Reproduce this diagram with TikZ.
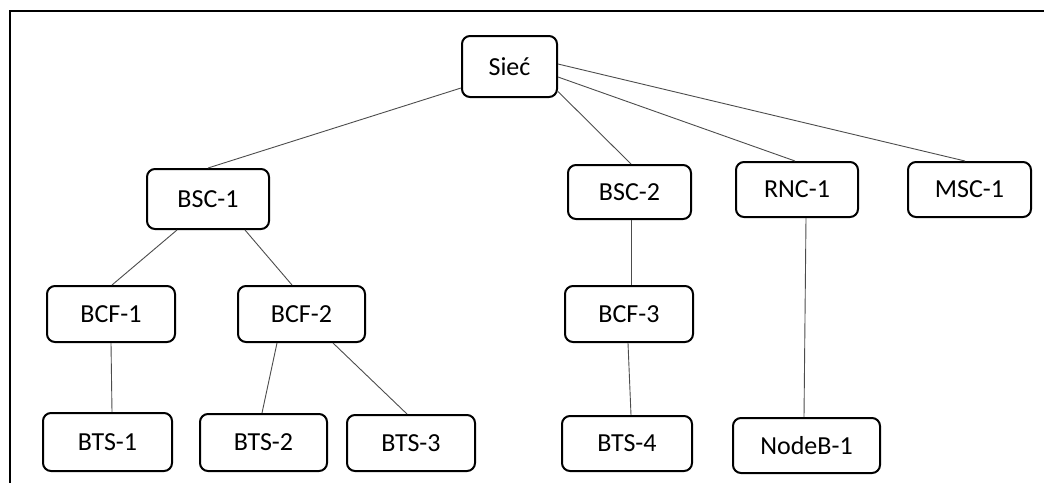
\documentclass[tikz,border=0pt]{standalone}
\usepackage{fontspec}
\setmainfont{Carlito}
\begin{document}
\begin{tikzpicture}[x=1pt,y=-1pt,
  box/.style={draw=black, line width=2pt, rounded corners=8pt, fill=white,
    inner sep=0pt, font=\fontsize{26}{30}\selectfont, text=black},
  link/.style={draw=black!70, line width=0.9pt}]
  \useasboundingbox (0,0) rectangle (1044,483);
  % open frame: top and left edges
  \draw[line width=2pt] (1044,11) -- (10,11) -- (10,483);

  % tree nodes
  \node[box, minimum width=95pt,  minimum height=61pt] (siec)  at (509.5,66.5) {Sieć};
  \node[box, minimum width=122pt, minimum height=60pt] (bsc1)  at (208,199)    {BSC-1};
  \node[box, minimum width=123pt, minimum height=54pt] (bsc2)  at (629.5,192)  {BSC-2};
  \node[box, minimum width=122pt, minimum height=55pt] (rnc1)  at (797,189.5)  {RNC-1};
  \node[box, minimum width=123pt, minimum height=55pt] (msc1)  at (969.5,189.5){MSC-1};
  \node[box, minimum width=128pt, minimum height=56pt] (bcf1)  at (111,314)    {BCF-1};
  \node[box, minimum width=127pt, minimum height=56pt] (bcf2)  at (301.5,314)  {BCF-2};
  \node[box, minimum width=128pt, minimum height=56pt] (bcf3)  at (629,314)    {BCF-3};
  \node[box, minimum width=129pt, minimum height=58pt] (bts1)  at (107.5,442)  {BTS-1};
  \node[box, minimum width=127pt, minimum height=57pt] (bts2)  at (263.5,442.5){BTS-2};
  \node[box, minimum width=128pt, minimum height=56pt] (bts3)  at (411,443)    {BTS-3};
  \node[box, minimum width=130pt, minimum height=55pt] (bts4)  at (627,443.5)  {BTS-4};
  \node[box, minimum width=147pt, minimum height=55pt] (nodeb) at (806.5,445.5){NodeB-1};

  % connections
  \draw[link] ([yshift=-21.5pt]siec.west) -- (bsc1.north);
  \draw[link] ([yshift=-25pt]siec.east) -- ([xshift=1.5pt]bsc2.north);
  \draw[link] ([yshift=-10.5pt]siec.east) -- ([xshift=-2pt]rnc1.north);
  \draw[link] ([yshift=2.5pt]siec.east) -- ([xshift=-4.5pt]msc1.north);
  \draw[link] ([xshift=-31pt]bsc1.south) -- ([xshift=1pt]bcf1.north);
  \draw[link] ([xshift=37pt]bsc1.south) -- ([xshift=-9.5pt]bcf2.north);
  \draw[link] (bcf1.south) -- ([xshift=4.5pt]bts1.north);
  \draw[link] ([xshift=-24.5pt]bcf2.south) -- ([xshift=-1.5pt]bts2.north);
  \draw[link] ([xshift=31.5pt]bcf2.south) -- ([xshift=-4pt]bts3.north);
  \draw[link] ([xshift=1.5pt]bsc2.south) -- ([xshift=2pt]bcf3.north);
  \draw[link] ([xshift=-1pt]bcf3.south) -- ([xshift=4pt]bts4.north);
  \draw[link] ([xshift=9pt]rnc1.south) -- ([xshift=-2.5pt]nodeb.north);
\end{tikzpicture}
\end{document}
